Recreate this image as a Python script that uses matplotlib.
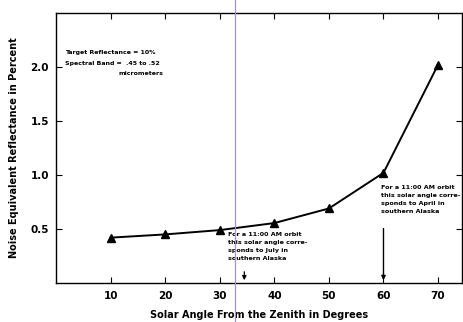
import matplotlib.pyplot as plt
from matplotlib.lines import Line2D

# solar zenith angle (deg) vs noise equivalent reflectance (%)
angle = [10, 20, 30, 40, 50, 60, 70]
ner = [0.42, 0.45, 0.49, 0.555, 0.69, 1.02, 2.02]

xticks = [10, 20, 30, 40, 50, 60, 70]
yticks = [0.5, 1.0, 1.5, 2.0]

july_angle = 34.5
april_angle = 60

fam = ['Liberation Sans Narrow', 'DejaVu Sans']
plt.rcParams['font.family'] = fam
plt.rcParams['font.weight'] = 'bold'

fig = plt.figure(figsize=(4.63, 3.22), dpi=100)
ax = fig.add_axes([0.121, 0.121, 0.877, 0.839])

ax.plot(angle, ner, color='black', lw=1.4, marker='^', ms=5.5, mfc='black', mec='black')

ax.set_xlim(0, 74.4)
ax.set_ylim(0, 2.5)
ax.set_xticks(xticks)
ax.set_yticks(yticks)
ax.set_xticklabels([str(v) for v in xticks], fontsize=7.5, fontweight='bold')
ax.set_yticklabels(['%.1f' % v for v in yticks], fontsize=7.5, fontweight='bold')
ax.tick_params(direction='in', length=4, width=0.8, top=True, right=True, pad=6)
ax.tick_params(axis='y', pad=5)
for s in ax.spines.values():
    s.set_linewidth(1.0)

ax.set_xlabel('Solar Angle From the Zenith in Degrees', fontsize=7, fontweight='bold', labelpad=6)
ax.set_ylabel('Noise Equivalent Reflectance in Percent', fontsize=7, fontweight='bold', labelpad=8)

# legend-like note
ax.text(1.6, 2.13, 'Target Reflectance = 10%', fontsize=4.5, fontweight='bold', va='center')
ax.text(1.6, 2.03, 'Spectral Band =  .45 to .52', fontsize=4.5, fontweight='bold', va='center')
ax.text(11.5, 1.94, 'micrometers', fontsize=4.5, fontweight='bold', va='center')

july_txt = 'For a 11:00 AM orbit\nthis solar angle corre-\nsponds to July in\nsouthern Alaska'
april_txt = 'For a 11:00 AM orbit\nthis solar angle corre-\nsponds to April in\nsouthern Alaska'
ax.text(31.6, 0.47, july_txt, fontsize=4.6, fontweight='bold', va='top', linespacing=1.75)
ax.text(59.6, 0.91, april_txt, fontsize=4.6, fontweight='bold', va='top', linespacing=1.75)

ax.annotate('', xy=(july_angle, 0.0), xytext=(july_angle, 0.13),
            arrowprops=dict(arrowstyle='-|>', color='black', lw=0.9, mutation_scale=6))
ax.annotate('', xy=(april_angle, 0.0), xytext=(april_angle, 0.53),
            arrowprops=dict(arrowstyle='-|>', color='black', lw=1.0, mutation_scale=6))

# faint scanner streak
fig.add_artist(Line2D([0.508, 0.508], [0, 1], transform=fig.transFigure,
                      color='#a88fd8', lw=0.9))

fig.savefig('out.png', dpi=100)
